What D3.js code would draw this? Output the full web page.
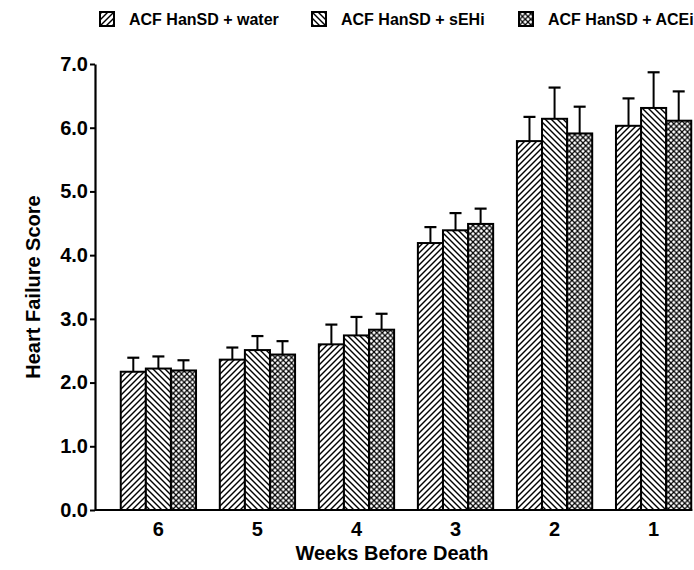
<!DOCTYPE html>
<html><head><meta charset="utf-8">
<script src="https://cdn.jsdelivr.net/npm/d3@7"></script>
<style>
body{margin:0;background:#fff;}
svg{font-family:Arial,"Liberation Sans",sans-serif;}
</style></head>
<body>
<svg id="c" width="694" height="570"></svg>
<script>
const weeks = ["6","5","4","3","2","1"];
const seriesNames = ["ACF HanSD + water","ACF HanSD + sEHi","ACF HanSD + ACEi"];
const waterMean = [2.17, 2.36, 2.60, 4.19, 5.79, 6.03];
const sehiMean  = [2.22, 2.51, 2.74, 4.39, 6.14, 6.31];
const aceiMean  = [2.19, 2.44, 2.83, 4.49, 5.91, 6.11];
const waterErr  = [0.22, 0.19, 0.31, 0.25, 0.38, 0.43];
const sehiErr   = [0.19, 0.22, 0.29, 0.27, 0.49, 0.56];
const aceiErr   = [0.16, 0.21, 0.25, 0.24, 0.42, 0.46];
const yTicks = [0,1,2,3,4,5,6,7];

const means = [waterMean, sehiMean, aceiMean];
const errs = [waterErr, sehiErr, aceiErr];
const patIds = ["pWater","pSehi","pAcei"];

const svg = d3.select("#c");
const defs = svg.append("defs");
function pat(id, w, paths, sw){
  const p = defs.append("pattern").attr("id", id).attr("patternUnits","userSpaceOnUse")
    .attr("width", w).attr("height", w);
  p.append("rect").attr("width", w).attr("height", w).attr("fill","#fff");
  paths.forEach(d => p.append("path").attr("d", d).attr("stroke","#000").attr("stroke-width", sw).attr("fill","none"));
}
pat("pWater", 6, ["M-1.5,1.5 L1.5,-1.5","M0,6 L6,0","M4.5,7.5 L7.5,4.5"], 1.4);
pat("pSehi", 6, ["M-1.5,4.5 L1.5,7.5","M0,0 L6,6","M4.5,-1.5 L7.5,1.5"], 1.4);
pat("pAcei", 5.5, ["M-1,1 L1,-1","M0,5.5 L5.5,0","M4.5,6.5 L6.5,4.5","M-1,4.5 L1,6.5","M0,0 L5.5,5.5","M4.5,-1 L6.5,1"], 1.15);

const x0 = 95, yBottom = 510, yTop = 64;
const x = d3.scaleBand().domain(weeks).range([x0, 717]).paddingInner(0.24).paddingOuter(0.26);
const xs = d3.scaleBand().domain([0,1,2]).range([0, x.bandwidth()]);
const y = d3.scaleLinear().domain([0,7]).range([yBottom, yTop]);

// bars
const g = svg.append("g");
weeks.forEach((w, i) => {
  [0,1,2].forEach(s => {
    const bx = x(w) + xs(s);
    const bw = xs.bandwidth();
    const v = means[s][i], e = errs[s][i];
    g.append("line").attr("x1", bx + bw/2).attr("x2", bx + bw/2)
      .attr("y1", y(v)).attr("y2", y(v + e)).attr("stroke","#000").attr("stroke-width",2);
    g.append("line").attr("x1", bx + bw/2 - 6).attr("x2", bx + bw/2 + 6)
      .attr("y1", y(v + e)).attr("y2", y(v + e)).attr("stroke","#000").attr("stroke-width",2.2);
    g.append("rect").attr("x", bx).attr("y", y(v)).attr("width", bw).attr("height", y(0) - y(v))
      .attr("fill", `url(#${patIds[s]})`).attr("stroke","#000").attr("stroke-width",2);
  });
});

// y axis
const ya = svg.append("g").attr("transform", `translate(${x0},0)`)
  .call(d3.axisLeft(y).tickValues(yTicks).tickFormat(d3.format(".1f")).tickSize(5).tickPadding(2).tickSizeOuter(0));
ya.select(".domain").attr("stroke-width", 2.2);
ya.selectAll(".tick line").attr("stroke-width", 2);
ya.selectAll(".tick text").attr("font-size", 20).attr("font-weight","bold").attr("fill","#000")
  .attr("font-family","Arial,'Liberation Sans',sans-serif");

// x axis
const xa = svg.append("g").attr("transform", `translate(0,${yBottom})`)
  .call(d3.axisBottom(x).tickSize(0).tickPadding(12));
xa.select(".domain").attr("d", `M${x0},0H${x(weeks[weeks.length-1]) + x.bandwidth() + 1}`).attr("stroke-width", 2.2);
xa.selectAll(".tick text").attr("font-size", 20).attr("font-weight","bold").attr("fill","#000")
  .attr("font-family","Arial,'Liberation Sans',sans-serif");

// axis titles
svg.append("text").attr("x", 392).attr("y", 560).attr("text-anchor","middle")
  .attr("font-size", 20).attr("font-weight","bold").text("Weeks Before Death");
svg.append("text").attr("transform", `translate(40,${(yTop+yBottom)/2}) rotate(-90)`).attr("text-anchor","middle")
  .attr("font-size", 20).attr("font-weight","bold").text("Heart Failure Score");

// legend
const legX = [100, 312, 519];
seriesNames.forEach((n, s) => {
  svg.append("rect").attr("x", legX[s]).attr("y", 12).attr("width", 14).attr("height", 14)
    .attr("fill", `url(#${patIds[s]})`).attr("stroke","#000").attr("stroke-width",2);
  svg.append("text").attr("x", legX[s] + 29).attr("y", 25).attr("font-size", 16).attr("font-weight","bold").text(n);
});
</script>
</body></html>
